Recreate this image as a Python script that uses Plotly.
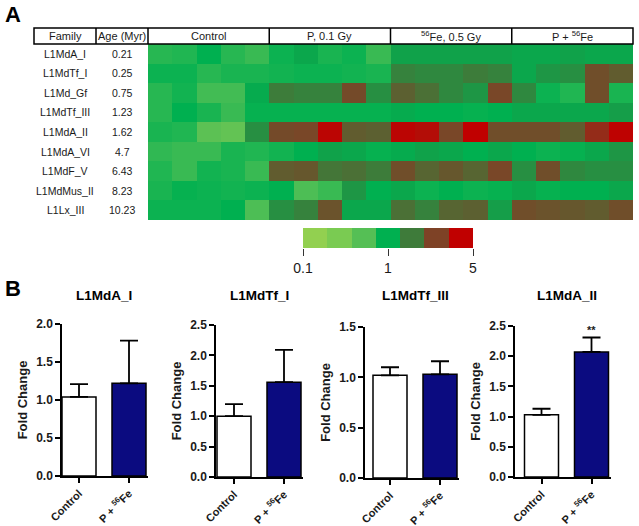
import numpy as np
import plotly.graph_objects as go

W, H = 639, 526
FONT = "Arial, Liberation Sans, sans-serif"

# ---------------- data ----------------
families = ["L1MdA_I", "L1MdTf_I", "L1Md_Gf", "L1MdTf_III", "L1MdA_II",
            "L1MdA_VI", "L1MdF_V", "L1MdMus_II", "L1Lx_III"]
ages = ["0.21", "0.25", "0.75", "1.23", "1.62", "4.7", "6.43", "8.23", "10.23"]
groups = ["Control", "P, 0.1 Gy", "<sup>56</sup>Fe, 0.5 Gy", "P + <sup>56</sup>Fe"]

# fold change per family (rows) x replicate (5 columns) per group
control_fc = [
    [0.70, 0.75, 1.00, 0.70, 0.60],
    [0.90, 0.90, 0.70, 0.80, 0.80],
    [0.70, 0.85, 0.55, 0.55, 1.05],
    [0.70, 1.00, 0.80, 0.60, 0.95],
    [0.80, 0.75, 0.40, 0.35, 1.40],
    [0.65, 0.60, 0.60, 0.80, 0.75],
    [0.75, 0.60, 0.85, 0.80, 0.60],
    [0.80, 0.95, 0.90, 0.85, 0.90],
    [0.90, 0.90, 0.90, 1.00, 0.50],
]
p_fc = [
    [0.90, 1.10, 0.80, 0.90, 0.60],
    [0.85, 0.90, 0.90, 0.85, 0.80],
    [1.70, 1.60, 1.60, 2.70, 1.40],
    [0.95, 0.95, 0.95, 0.95, 0.95],
    [2.70, 2.80, 4.80, 2.30, 2.20],
    [0.85, 1.00, 1.15, 1.10, 0.95],
    [2.30, 2.40, 1.80, 1.90, 1.70],
    [1.00, 0.50, 0.60, 1.30, 1.00],
    [1.40, 1.60, 2.50, 1.10, 1.10],
]
fe_fc = [
    [1.15, 1.15, 1.15, 1.15, 1.15],
    [1.60, 1.50, 1.50, 1.70, 1.60],
    [2.20, 1.90, 1.50, 1.30, 2.80],
    [1.05, 1.00, 1.00, 0.95, 1.00],
    [4.80, 4.50, 2.80, 5.00, 2.60],
    [1.05, 1.15, 1.10, 1.00, 1.10],
    [2.60, 2.10, 2.40, 2.10, 2.80],
    [1.10, 0.90, 1.00, 0.90, 0.95],
    [1.90, 1.60, 2.10, 2.20, 1.20],
]
pfe_fc = [
    [1.10, 1.10, 1.15, 1.10, 1.10],
    [1.10, 1.30, 1.40, 2.60, 2.30],
    [1.50, 0.90, 0.75, 2.60, 0.80],
    [1.10, 1.10, 1.10, 1.10, 1.20],
    [2.60, 2.60, 2.30, 3.50, 4.90],
    [1.00, 0.90, 0.95, 1.10, 1.30],
    [1.40, 2.60, 1.50, 1.40, 1.40],
    [1.10, 0.95, 1.00, 1.00, 1.10],
    [2.60, 2.50, 2.40, 2.30, 2.60],
]
legend_labels = ["0.1", "1", "5"]
legend_colors = ["#92D050", "#7ACB52", "#55BF55", "#00B050", "#3E7B3A", "#7E4226", "#C00000"]

bar_titles = ["L1MdA_I", "L1MdTf_I", "L1MdTf_III", "L1MdA_II"]
bar_categories = ["Control", "P + <sup>56</sup>Fe"]
control_mean = [1.04, 1.00, 1.02, 1.03]
control_err = [0.17, 0.20, 0.08, 0.10]
pfe_mean = [1.22, 1.56, 1.03, 2.07]
pfe_err = [0.56, 0.53, 0.13, 0.24]
y_max = [2.0, 2.5, 1.5, 2.5]
significance = ["", "", "", "**"]

# ---------------- helpers ----------------
def px(x):
    return x / W

def py(y):
    return 1 - y / H

def fc_to_pos(v):
    v = np.asarray(v, dtype=float)
    return np.where(v <= 1, 0.5 * (1 + np.log10(v)), 0.5 + 0.5 * np.log10(v) / np.log10(5))

n = len(legend_colors)
colorscale = [[k / (n - 1), c] for k, c in enumerate(legend_colors)]

z = np.hstack([np.array(control_fc), np.array(p_fc), np.array(fe_fc), np.array(pfe_fc)])
zpos = fc_to_pos(z)

fig = go.Figure()

# main heatmap
fig.add_trace(go.Heatmap(
    z=zpos, x=list(range(z.shape[1])), y=list(range(len(families))),
    colorscale=colorscale, zmin=0, zmax=1, showscale=False,
    xaxis="x", yaxis="y", hoverinfo="skip"))

# legend color bar
fig.add_trace(go.Heatmap(
    z=[[k / (n - 1) for k in range(n)]], x=[k + 0.5 for k in range(n)], y=[0],
    colorscale=colorscale, zmin=0, zmax=1, showscale=False,
    xaxis="x2", yaxis="y2", hoverinfo="skip"))

layout = dict(
    width=W, height=H, margin=dict(l=0, r=0, t=0, b=0, autoexpand=False),
    paper_bgcolor="white", plot_bgcolor="white", showlegend=False,
    font=dict(family=FONT, color="#1a1a1a"),
)

hm_left, hm_right, hm_top, hm_bot = 148, 633, 44, 220
layout["xaxis"] = dict(domain=[px(hm_left), px(hm_right)], range=[-0.5, 19.5],
                       visible=False, fixedrange=True, automargin=False)
layout["yaxis"] = dict(domain=[py(hm_bot), py(hm_top)], range=[8.5, -0.5],
                       visible=False, fixedrange=True, automargin=False)

layout["xaxis2"] = dict(domain=[px(303), px(473)], range=[0, n], anchor="y2",
                        tickvals=[0, (n) / 2, n], ticktext=legend_labels,
                        ticks="outside", ticklen=7, tickwidth=1.3, tickcolor="#333",
                        showline=False, showgrid=False, zeroline=False, automargin=False,
                        tickfont=dict(size=14, family=FONT, color="#1a1a1a"))
layout["yaxis2"] = dict(domain=[py(248), py(228)], range=[-0.5, 0.5], anchor="x2",
                        visible=False, automargin=False)

shapes = []
annotations = []

# header table
hdr_top, hdr_bot = 28, 44
col_w = (hm_right - hm_left) / 4
edges = [34, 96, 148] + [hm_left + col_w * k for k in range(1, 5)]
shapes.append(dict(type="rect", xref="paper", yref="paper", x0=px(34), x1=px(hm_right),
                   y0=py(hdr_bot), y1=py(hdr_top), line=dict(color="black", width=1.5)))
for e in edges[1:-1]:
    shapes.append(dict(type="line", xref="paper", yref="paper", x0=px(e), x1=px(e),
                       y0=py(hdr_bot), y1=py(hdr_top), line=dict(color="black", width=1.5)))
headers = ["Family", "Age (Myr)"] + groups
for i, t in enumerate(headers):
    annotations.append(dict(x=px((edges[i] + edges[i + 1]) / 2), y=py((hdr_top + hdr_bot) / 2 + 0.5),
                            xref="paper", yref="paper", text=t, showarrow=False,
                            font=dict(size=11, family=FONT, color="#1a1a1a"),
                            xanchor="center", yanchor="middle"))
for i, (f, a) in enumerate(zip(families, ages)):
    annotations.append(dict(x=px(65), y=i, xref="paper", yref="y", text=f, showarrow=False,
                            font=dict(size=10.5, family=FONT, color="#1a1a1a"),
                            xanchor="center", yanchor="middle"))
    annotations.append(dict(x=px(122), y=i, xref="paper", yref="y", text=a, showarrow=False,
                            font=dict(size=10.5, family=FONT, color="#1a1a1a"),
                            xanchor="center", yanchor="middle"))

# panel letters
annotations.append(dict(x=px(13), y=py(15), xref="paper", yref="paper", text="<b>A</b>",
                        showarrow=False, xanchor="center", yanchor="middle",
                        font=dict(size=22, family=FONT, color="black")))
annotations.append(dict(x=px(13), y=py(288), xref="paper", yref="paper", text="<b>B</b>",
                        showarrow=False, xanchor="center", yanchor="middle",
                        font=dict(size=22, family=FONT, color="black")))

# bar panels
axis_left = [62, 216, 365, 515]
center0 = [79, 234, 390, 541.5]
spacing = 50
y_bounds = [(476, 324), (477, 325), (478, 327), (477, 326)]
bar_width = 0.68

for i in range(4):
    xa = f"x{i + 3}"
    ya = f"y{i + 3}"
    fig.add_trace(go.Bar(
        x=[0, 1], y=[control_mean[i], pfe_mean[i]], width=bar_width,
        marker=dict(color=["white", "#0b0b80"], line=dict(color="black", width=1.5)),
        error_y=dict(type="data", symmetric=False, array=[control_err[i], pfe_err[i]],
                     arrayminus=[0, 0], color="black", thickness=1.8, width=9),
        xaxis=xa, yaxis=ya, hoverinfo="skip"))
    x0 = -(center0[i] - axis_left[i]) / spacing
    x1 = 1 + 19 / spacing
    right_px = center0[i] + spacing + 19
    yb, yt = y_bounds[i]
    layout[f"xaxis{i + 3}"] = dict(
        domain=[px(axis_left[i]), px(right_px)], range=[x0, x1], anchor=ya,
        tickvals=[0, 1], ticktext=[f"<b>{c}</b>" for c in bar_categories],
        tickangle=-45, ticks="outside", ticklen=5, tickwidth=1.5, tickcolor="black",
        showline=True, linecolor="black", linewidth=1.5, showgrid=False, zeroline=False,
        tickfont=dict(size=11, family=FONT, color="#1a1a1a"), fixedrange=True,
        automargin=False)
    layout[f"yaxis{i + 3}"] = dict(
        domain=[py(yb), py(yt)], range=[0, y_max[i]], anchor=xa, dtick=0.5,
        tickformat=".1f", ticks="outside", ticklen=5, tickwidth=1.5, tickcolor="black",
        showline=True, linecolor="black", linewidth=1.5, showgrid=False, zeroline=False,
        tickfont=dict(size=12, family=FONT, color="#1a1a1a", weight="bold"),
        title=dict(text="<b>Fold Change</b>", font=dict(size=13, family=FONT, color="#1a1a1a"),
                   standoff=6),
        fixedrange=True, automargin=False)
    annotations.append(dict(x=0.5, y=py(295), xref=f"{xa}", yref="paper",
                            text=f"<b>{bar_titles[i]}</b>", showarrow=False,
                            font=dict(size=13.5, family=FONT, color="black"),
                            xanchor="center", yanchor="middle"))
    if significance[i]:
        annotations.append(dict(x=1, y=pfe_mean[i] + pfe_err[i], xref=xa, yref=ya,
                                text=f"<b>{significance[i]}</b>", showarrow=False,
                                font=dict(size=11, family=FONT, color="#1a1a1a"),
                                xanchor="center", yanchor="bottom", yshift=-1))

layout["shapes"] = shapes
layout["annotations"] = annotations
fig.update_layout(**layout)
fig.write_html("out.html", config={"displayModeBar": False},
               post_script="document.body.style.margin='0';document.body.style.overflow='hidden';")
